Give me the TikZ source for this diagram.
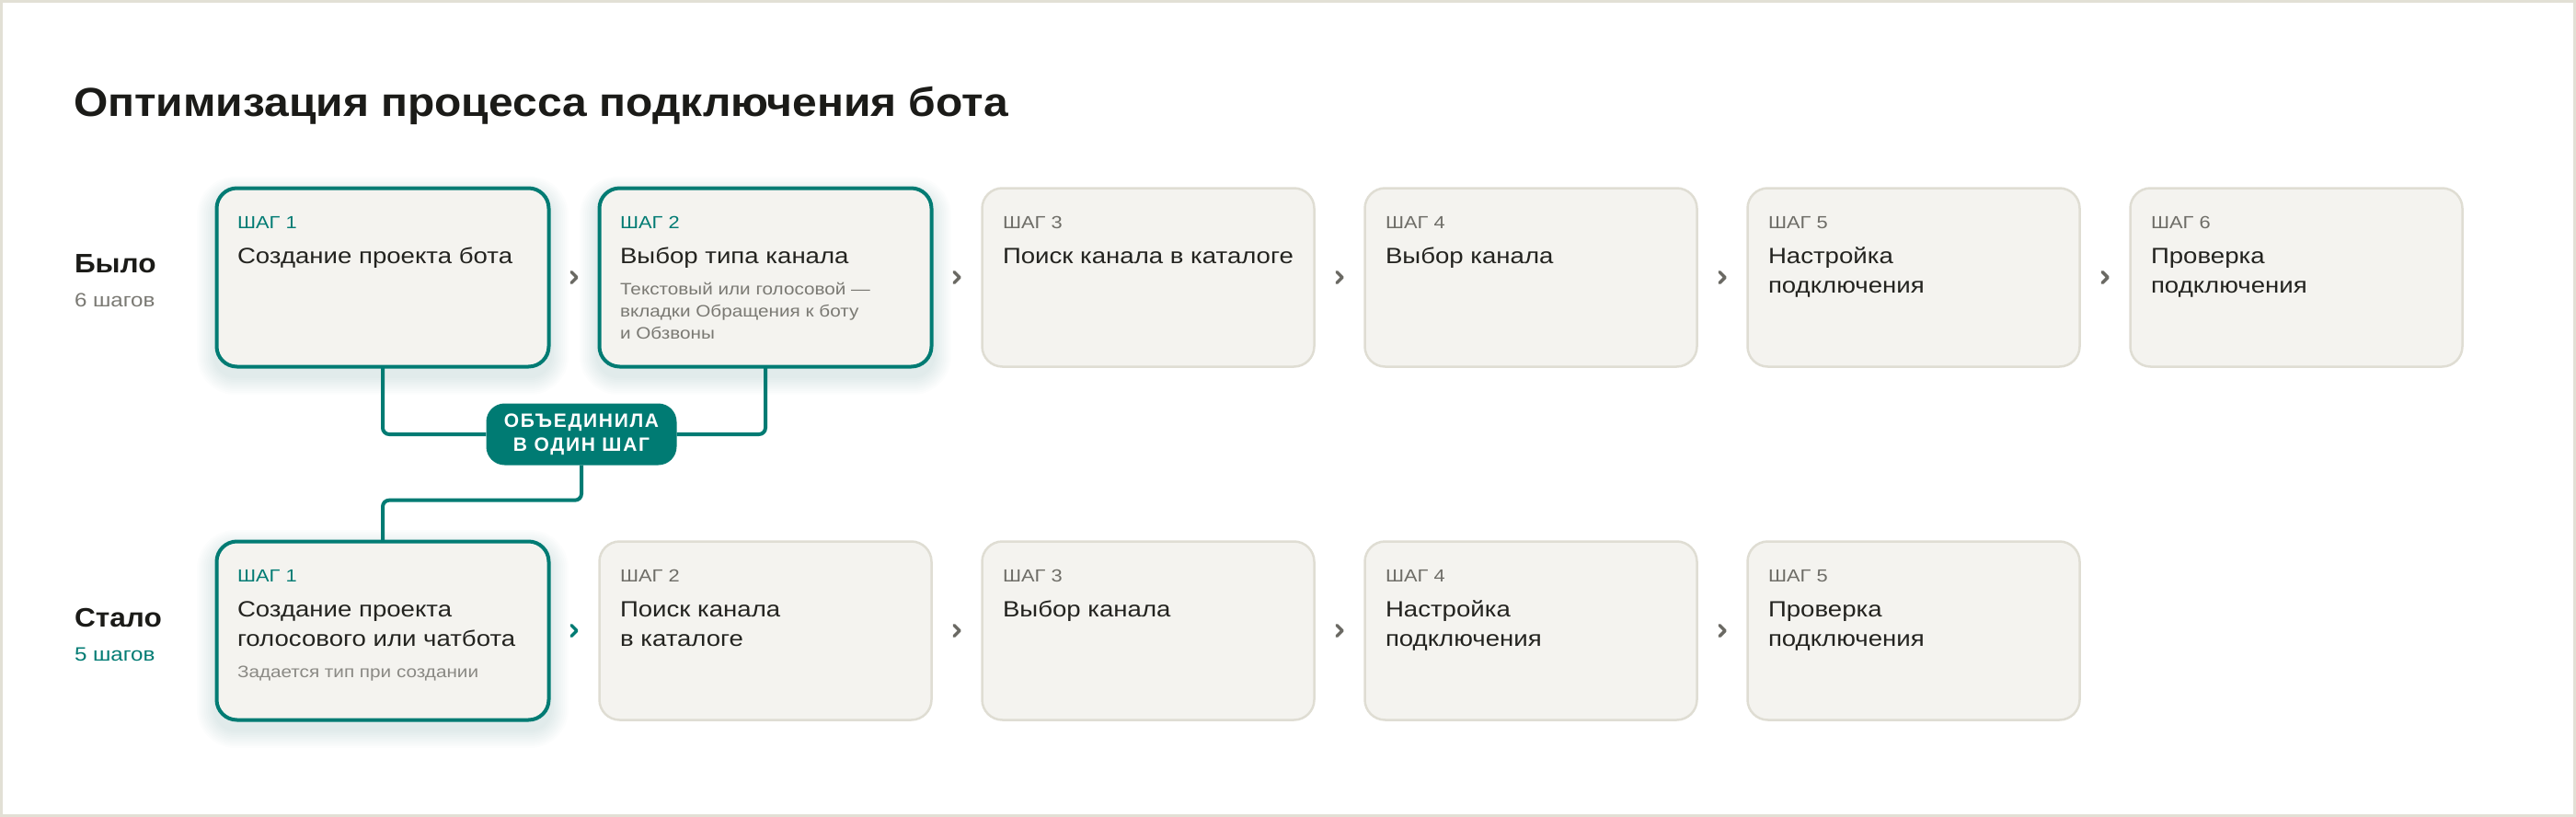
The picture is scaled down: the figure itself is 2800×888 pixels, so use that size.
\documentclass[tikz,border=0pt]{standalone}
\usepackage{fontspec}
\setmainfont{Liberation Sans}[FakeStretch=1.15]
\newfontfamily\hfont{Liberation Sans}[FakeStretch=1.09]
\newfontfamily\pillfont{Liberation Sans}[LetterSpace=8]
\usetikzlibrary{calc}
\definecolor{teal0}{HTML}{007B73}
\definecolor{boxfill}{HTML}{F4F3EF}
\definecolor{boxline}{HTML}{DFDDD3}
\definecolor{framecol}{HTML}{E2E0D5}
\definecolor{ink}{HTML}{1B1B18}
\definecolor{inkb}{HTML}{23231F}
\definecolor{lblgray}{HTML}{6E6D67}
\definecolor{dscgray}{HTML}{7A7973}
\definecolor{dsclight}{HTML}{8A8984}
\definecolor{chevgray}{HTML}{6A6963}
\tikzset{
  box/.style={rectangle, rounded corners=22pt, minimum width=361pt, minimum height=194pt,
    anchor=north west, inner sep=0pt, outer sep=0pt, fill=boxfill},
  gbox/.style={box, draw=boxline, line width=2.5pt},
  tbox/.style={box, draw=teal0, line width=4pt},
  txt/.style={anchor=base west, inner sep=0pt, outer sep=0pt},
  lbl/.style={txt, font=\fontsize{19}{22}\selectfont, text=lblgray},
  tlbl/.style={lbl, text=teal0},
  ttl/.style={txt, font=\fontsize{24}{28}\selectfont, text=inkb},
  dsc/.style={txt, font=\fontsize{18}{22}\selectfont, text=dscgray},
  dscl/.style={txt, font=\fontsize{18}{22}\selectfont, text=dsclight},
  rowhead/.style={txt, font=\hfont\bfseries\fontsize{29}{34}\selectfont, text=ink},
  rowsub/.style={txt, font=\fontsize{21}{25}\selectfont, text=dscgray},
  chev/.style={line width=3.5pt, line cap=round, line join=round, draw=chevgray},
  tchev/.style={chev, draw=teal0},
  link/.style={draw=teal0, line width=4pt, rounded corners=7pt},
  pill/.style={rectangle, rounded corners=20pt, fill=teal0, text=white, align=center,
    minimum width=207pt, minimum height=67pt, inner sep=0pt,
    font=\pillfont\bfseries\fontsize{21}{26}\selectfont},
}
\begin{document}
\begin{tikzpicture}[x=1pt, y=-1pt]
\useasboundingbox (0,0) rectangle (2800,888);
\fill[white] (0,0) rectangle (2800,888);
\draw[framecol, line width=3pt] (1.5,1.5) rectangle (2798.5,886.5);

% title
\node[txt, font=\hfont\bfseries\fontsize{44}{50}\selectfont, text=ink] (title) at (80,127) {Оптимизация процесса подключения бота};

% row headers
\node[rowhead] (was) at (81,296) {Было};
\node[rowsub] (wasn) at (81,333) {6 шагов};
\node[rowhead] (now) at (81,681) {Стало};
\node[rowsub, text=teal0] (nown) at (81,718) {5 шагов};

% glows for highlighted boxes
\foreach \bx/\by in {234/203, 650/203, 234/587}{
  \foreach \k in {1,...,10}{
    \fill[teal0, opacity=0.012, rounded corners=22pt+\k*2pt]
      (\bx-\k*2, \by-\k*2+9) rectangle (\bx+364+\k*2, \by+197+\k*2+9);
  }
}

% row 1 boxes
\node[tbox] (a1) at (235.5,204.5) {};
\node[tbox] (a2) at (651.5,204.5) {};
\node[gbox] (a3) at (1067.5,204.5) {};
\node[gbox] (a4) at (1483.5,204.5) {};
\node[gbox] (a5) at (1899.5,204.5) {};
\node[gbox] (a6) at (2315.5,204.5) {};

% row 2 boxes
\node[tbox] (b1) at (235.5,588.5) {};
\node[gbox] (b2) at (651.5,588.5) {};
\node[gbox] (b3) at (1067.5,588.5) {};
\node[gbox] (b4) at (1483.5,588.5) {};
\node[gbox] (b5) at (1899.5,588.5) {};

% row 1 texts
\node[tlbl] (a1l) at (258,248) {ШАГ 1};
\node[ttl] (a1t) at (258,286) {Создание проекта бота};

\node[tlbl] (a2l) at (674,248) {ШАГ 2};
\node[ttl] (a2t) at (674,286) {Выбор типа канала};
\node[dsc] (a2d1) at (674,320) {Текстовый или голосовой —};
\node[dsc] (a2d2) at (674,344) {вкладки Обращения к боту};
\node[dsc] (a2d3) at (674,368) {и Обзвоны};

\node[lbl] (a3l) at (1090,248) {ШАГ 3};
\node[ttl] (a3t) at (1090,286) {Поиск канала в каталоге};

\node[lbl] (a4l) at (1506,248) {ШАГ 4};
\node[ttl] (a4t) at (1506,286) {Выбор канала};

\node[lbl] (a5l) at (1922,248) {ШАГ 5};
\node[ttl] (a5t) at (1922,286) {Настройка};
\node[ttl] (a5u) at (1922,318) {подключения};

\node[lbl] (a6l) at (2338,248) {ШАГ 6};
\node[ttl] (a6t) at (2338,286) {Проверка};
\node[ttl] (a6u) at (2338,318) {подключения};

% row 2 texts
\node[tlbl] (b1l) at (258,632) {ШАГ 1};
\node[ttl] (b1t) at (258,670) {Создание проекта};
\node[ttl] (b1u) at (258,702) {голосового или чатбота};
\node[dscl] (b1d) at (258,736) {Задается тип при создании};

\node[lbl] (b2l) at (674,632) {ШАГ 2};
\node[ttl] (b2t) at (674,670) {Поиск канала};
\node[ttl] (b2u) at (674,702) {в каталоге};

\node[lbl] (b3l) at (1090,632) {ШАГ 3};
\node[ttl] (b3t) at (1090,670) {Выбор канала};

\node[lbl] (b4l) at (1506,632) {ШАГ 4};
\node[ttl] (b4t) at (1506,670) {Настройка};
\node[ttl] (b4u) at (1506,702) {подключения};

\node[lbl] (b5l) at (1922,632) {ШАГ 5};
\node[ttl] (b5t) at (1922,670) {Проверка};
\node[ttl] (b5u) at (1922,702) {подключения};

% chevrons
\foreach \p/\q in {a1/a2, a2/a3, a3/a4, a4/a5, a5/a6, b2/b3, b3/b4, b4/b5}{
  \draw[chev] ($(\p.east)!0.5!(\q.west)+(-3,-6)$) -- ++(6,6) -- ++(-6,6);
}
\draw[tchev] ($(b1.east)!0.5!(b2.west)+(-3,-6)$) -- ++(6,6) -- ++(-6,6);

% merge pill and connectors
\node[pill] (m) at (632,472) {ОБЪЕДИНИЛА\\В ОДИН ШАГ};
\draw[link] (a1.south) |- (m.west);
\draw[link] (m.east) -| (a2.south);
\draw[link] (m.south) -- ++(0,38) -| (b1.north);
\end{tikzpicture}
\end{document}
